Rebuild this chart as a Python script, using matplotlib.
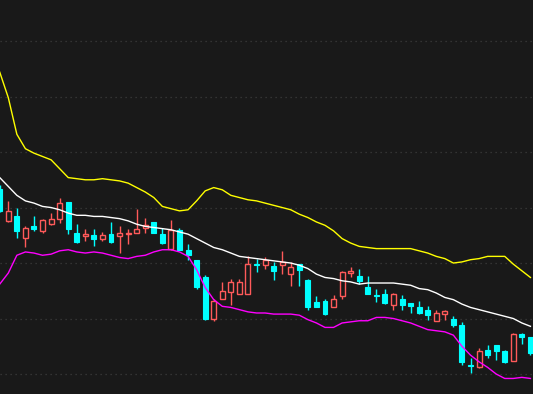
import matplotlib
matplotlib.use("Agg")
import matplotlib.pyplot as plt
import numpy as np

# OHLC price data, one entry per day
opens = [8.67, 8.38, 8.42, 8.23, 8.33, 8.29, 8.35, 8.40, 8.55, 8.27,
         8.24, 8.25, 8.22, 8.26, 8.24, 8.26, 8.27, 8.32, 8.37, 8.26,
         8.13, 8.30, 8.12, 8.03, 7.87, 7.50, 7.68, 7.74, 7.72, 7.72,
         7.99, 7.98, 7.97, 7.98, 7.90, 7.99, 7.85, 7.65, 7.66, 7.60,
         7.70, 7.91, 7.88, 7.78, 7.71, 7.72, 7.62, 7.68, 7.64, 7.60,
         7.58, 7.48, 7.54, 7.50, 7.44, 7.08, 7.06, 7.22, 7.26, 7.21,
         7.12, 7.36, 7.33]
highs = [8.70, 8.56, 8.50, 8.33, 8.42, 8.40, 8.45, 8.59, 8.55, 8.35,
         8.31, 8.31, 8.28, 8.37, 8.33, 8.31, 8.49, 8.41, 8.37, 8.32,
         8.39, 8.32, 8.17, 8.03, 7.89, 7.68, 7.83, 7.86, 7.86, 8.06,
         8.04, 8.05, 8.01, 8.11, 8.01, 7.99, 7.86, 7.70, 7.68, 7.71,
         7.93, 7.96, 7.95, 7.88, 7.77, 7.77, 7.73, 7.71, 7.64, 7.66,
         7.61, 7.58, 7.58, 7.52, 7.47, 7.14, 7.23, 7.26, 7.26, 7.22,
         7.37, 7.37, 7.33]
lows = [8.46, 8.37, 8.23, 8.14, 8.29, 8.27, 8.34, 8.36, 8.26, 8.18,
        8.20, 8.15, 8.20, 8.18, 8.09, 8.17, 8.27, 8.27, 8.27, 8.17,
        8.12, 8.12, 8.03, 7.77, 7.49, 7.48, 7.68, 7.62, 7.72, 7.72,
        7.92, 7.95, 7.85, 7.90, 7.79, 7.79, 7.58, 7.60, 7.53, 7.60,
        7.68, 7.87, 7.81, 7.72, 7.65, 7.63, 7.58, 7.58, 7.55, 7.54,
        7.49, 7.48, 7.49, 7.42, 7.08, 7.01, 7.05, 7.14, 7.13, 7.10,
        7.12, 7.27, 7.17]
closes = [8.47, 8.47, 8.29, 8.32, 8.31, 8.39, 8.40, 8.54, 8.31, 8.19,
          8.26, 8.22, 8.25, 8.19, 8.27, 8.27, 8.31, 8.34, 8.27, 8.18,
          8.30, 8.12, 8.07, 7.78, 7.50, 7.66, 7.75, 7.83, 7.83, 7.99,
          7.98, 8.03, 7.93, 8.01, 7.96, 7.94, 7.60, 7.60, 7.54, 7.68,
          7.92, 7.93, 7.84, 7.72, 7.70, 7.64, 7.72, 7.62, 7.61, 7.55,
          7.53, 7.55, 7.57, 7.44, 7.11, 7.07, 7.21, 7.17, 7.21, 7.11,
          7.36, 7.33, 7.19]

# Bollinger bands
upper = [9.72, 9.49, 9.16, 9.03, 8.99, 8.96, 8.93, 8.85, 8.77, 8.76,
         8.75, 8.75, 8.76, 8.75, 8.74, 8.72, 8.68, 8.64, 8.59, 8.51,
         8.49, 8.47, 8.48, 8.56, 8.65, 8.68, 8.66, 8.61, 8.59, 8.57,
         8.56, 8.54, 8.52, 8.50, 8.48, 8.44, 8.41, 8.37, 8.34, 8.29,
         8.22, 8.18, 8.15, 8.14, 8.13, 8.13, 8.13, 8.13, 8.13, 8.11,
         8.09, 8.06, 8.04, 8.00, 8.01, 8.03, 8.04, 8.06, 8.06, 8.06,
         7.99, 7.93, 7.87]
middle = [8.77, 8.69, 8.61, 8.56, 8.54, 8.51, 8.50, 8.48, 8.45, 8.43,
          8.43, 8.42, 8.42, 8.41, 8.40, 8.38, 8.35, 8.33, 8.32, 8.31,
          8.30, 8.28, 8.26, 8.22, 8.18, 8.14, 8.12, 8.09, 8.06, 8.05,
          8.04, 8.03, 8.02, 8.01, 8.00, 7.98, 7.95, 7.90, 7.87, 7.86,
          7.84, 7.83, 7.81, 7.82, 7.82, 7.82, 7.82, 7.81, 7.80, 7.77,
          7.76, 7.73, 7.69, 7.67, 7.63, 7.60, 7.58, 7.56, 7.54, 7.52,
          7.50, 7.46, 7.43]
lower = [7.81, 7.91, 8.07, 8.10, 8.09, 8.07, 8.08, 8.11, 8.12, 8.10,
         8.09, 8.10, 8.09, 8.07, 8.05, 8.04, 8.06, 8.07, 8.10, 8.12,
         8.12, 8.10, 8.06, 7.94, 7.78, 7.67, 7.61, 7.60, 7.58, 7.56,
         7.55, 7.55, 7.54, 7.54, 7.54, 7.53, 7.49, 7.46, 7.42, 7.42,
         7.46, 7.47, 7.48, 7.48, 7.51, 7.51, 7.50, 7.48, 7.46, 7.43,
         7.40, 7.39, 7.38, 7.35, 7.25, 7.17, 7.11, 7.06, 7.00, 6.96,
         6.96, 6.97, 6.96]

grid_levels = [7.0, 7.5, 8.0, 8.5, 9.0, 9.5, 10.0]

bg = "#191919"
up_color = "#ff5a5a"
down_color = "#00ffff"

o = np.array(opens)
h = np.array(highs)
l = np.array(lows)
c = np.array(closes)
x = np.arange(len(o))

fig = plt.figure(figsize=(5.33, 3.94), dpi=100, facecolor=bg)
ax = fig.add_axes([0, 0, 1, 1], facecolor=bg)

# grid
for g in grid_levels:
    ax.axhline(g, color="#3c3c3c", lw=0.9, ls=(0, (1, 3)), zorder=0)

up = c >= o
top = np.maximum(o, c)
bot = np.minimum(o, c)
body = np.maximum(top - bot, 0.004)

for i in x:
    col = up_color if up[i] else down_color
    # wicks above and below the body
    if h[i] > top[i]:
        ax.vlines(i, top[i], h[i], color=col, lw=1, zorder=2)
    if l[i] < bot[i]:
        ax.vlines(i, l[i], bot[i], color=col, lw=1, zorder=2)

ax.bar(x[up], body[up], 0.58, bottom=bot[up], facecolor=bg,
       edgecolor=up_color, linewidth=1, zorder=3)
ax.bar(x[~up], body[~up], 0.58, bottom=bot[~up], facecolor=down_color,
       edgecolor=down_color, linewidth=0.8, zorder=3)

ax.plot(x, upper, color="#ffff00", lw=1, zorder=4)
ax.plot(x, middle, color="#ffffff", lw=1, zorder=4)
ax.plot(x, lower, color="#ff00ff", lw=1, zorder=4)

ax.set_xlim(0.03, 62.3)
ax.set_ylim(6.82, 10.37)
ax.axis("off")

fig.savefig("out.png", dpi=100, facecolor=bg)
